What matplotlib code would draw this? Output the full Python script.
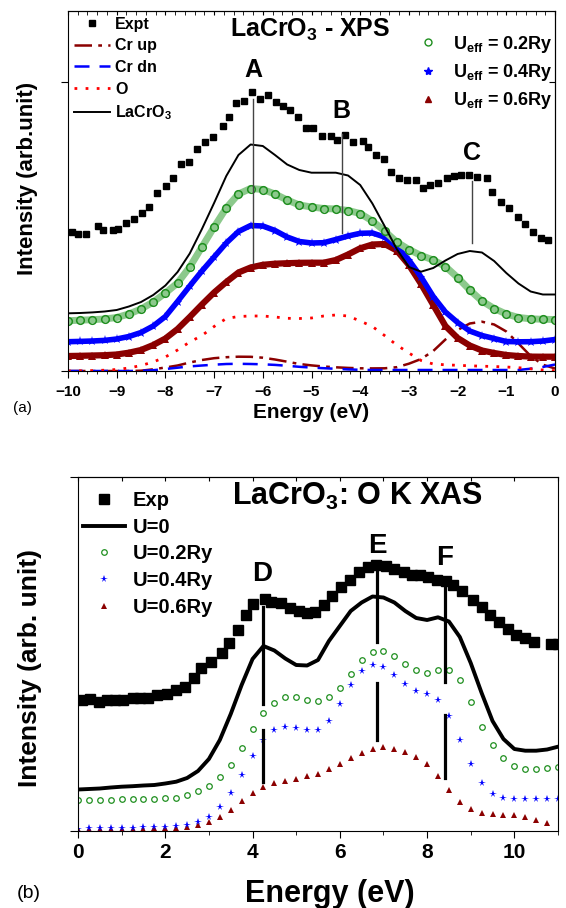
import numpy as np
import matplotlib
matplotlib.use('Agg')
import matplotlib.pyplot as plt
from matplotlib.lines import Line2D
from matplotlib.ticker import MultipleLocator

plt.rcParams['font.family'] = ['Liberation Sans', 'DejaVu Sans']
plt.rcParams['font.weight'] = 'bold'
plt.rcParams['axes.labelweight'] = 'bold'
plt.rcParams['mathtext.fontset'] = 'custom'
plt.rcParams['mathtext.rm'] = 'Liberation Sans:bold'
plt.rcParams['mathtext.bf'] = 'Liberation Sans:bold'
plt.rcParams['mathtext.default'] = 'rm'

GREEN = '#1f8f1f'
BLUE = '#0000ff'
DARKRED = '#8b0000'
RED = '#ff0000'

# ---- (a) XPS data, energies in eV, intensities in arb. units ----
xps_e = np.linspace(-10, 0, 41)
expt_e = [-9.92, -9.79, -9.63, -9.39, -9.29, -9.08, -8.97, -8.81, -8.65, -8.49,
          -8.33, -8.17, -7.99, -7.84, -7.67, -7.51, -7.36, -7.19, -7.03, -6.81,
          -6.69, -6.55, -6.39, -6.22, -6.06, -5.90, -5.73, -5.59, -5.44, -5.27,
          -5.11, -4.96, -4.79, -4.59, -4.47, -4.31, -4.15, -3.95, -3.83, -3.68,
          -3.51, -3.37, -3.20, -3.03, -2.85, -2.72, -2.57, -2.40, -2.22, -2.07,
          -1.92, -1.77, -1.60, -1.40, -1.29, -1.10, -0.95, -0.75, -0.62, -0.45,
          -0.29, -0.14]
expt_i = [139, 137, 137, 145, 141, 141, 142, 148, 152, 158, 164, 178, 185, 193,
          207, 209, 222, 229, 234, 245, 254, 268, 270, 279, 272, 276, 269, 265,
          261, 254, 243, 243, 235, 235, 231, 236, 229, 230, 224, 216, 212, 199,
          193, 191, 191, 183, 186, 188, 193, 195, 196, 196, 194, 193, 179, 169,
          163, 154, 147, 139, 133, 131]
xps_total = [57.7, 58, 58.6, 59.5, 61, 64.5, 69, 76, 85.5, 99, 117.5, 142, 168,
             195, 216, 226.5, 225, 216, 206.5, 201, 198.3, 198.3, 198.3, 195.5,
             186, 167.5, 145, 122, 104, 99.3, 103, 110.5, 117, 120, 118.5, 110,
             98, 87.5, 79.5, 76.5, 76.5]
xps_u02 = [50.3, 50.8, 51.3, 52, 53.5, 57, 62, 69, 78, 88, 104, 124, 144, 163,
           177, 182.5, 181.5, 177, 171, 166, 164, 162.5, 162, 160.5, 157.5, 150,
           140, 129, 121.5, 115.5, 111, 104.5, 93.5, 81, 70, 62.5, 57, 53.5,
           52.2, 51.7, 51.5]
xps_u04 = [29.3, 29.6, 30, 30.6, 32, 34.5, 38.5, 45, 54.5, 69.5, 85, 100, 114,
           128, 139.5, 145.5, 145, 140.5, 134, 129.5, 128, 128.3, 131.5, 135,
           137.7, 138, 134, 124.5, 111, 94, 74.5, 59, 48.5, 40, 35.5, 32.5, 29.5,
           29.2, 29.3, 30, 31.5]
xps_u06 = [15, 15.2, 15.5, 15.8, 16.5, 18.3, 21, 26, 32.5, 42, 54, 66.5, 78.5,
           89, 98.5, 103.5, 106.2, 107.3, 107.8, 108.2, 108.3, 108.3, 111, 116.5,
           122.7, 126.5, 127, 120.5, 106, 87, 66, 45, 33, 25.5, 20.5, 18, 16, 15,
           14.4, 14.3, 14.3]
xps_o = [0, 0.2, 0.4, 0.8, 1.5, 3, 5.5, 9, 14, 21, 29, 35.5, 44.5, 52.5, 54.5,
         55, 55, 54, 52.7, 52.5, 53, 55, 56, 55, 50, 44.5, 35.5, 26, 18, 10.5, 7,
         6.2, 5.7, 5.2, 4.8, 4.5, 4, 3.3, 2.2, 1, 0.2]
xps_cr_up = [0, 0, 0, 0, 0, 0, 0.3, 1.7, 3.5, 5.5, 8.5, 11, 12.8, 13.8, 14.3,
             14.2, 13.3, 11.5, 9.3, 7, 5.6, 4.5, 3.7, 3.1, 2.7, 2.6, 2.7, 3.8,
             7.3, 12, 20, 31.5, 41, 47.5, 49.3, 46.5, 39.5, 27.5, 15, 6.3, 2.5]
xps_cr_dn = [0, 0, 0, 0, 0, 0, 0.2, 0.8, 2, 3.3, 4.6, 5.5, 6.3, 7, 7.2, 7, 6.7,
             6.1, 5.2, 4.2, 3.4, 2.8, 2.2, 1.6, 1.2, 1, 1, 1, 1, 1, 1, 1, 1, 1,
             1, 1, 1, 1, 2.3, 4, 6.5]
xps_peaks = ['A', 'B', 'C']
xps_peak_e = [-6.2, -4.38, -1.70]
xps_peak_top = [272, 237, 190]
xps_peak_bottom = [108, 138, 128]
xps_label_h = [294, 253, 211]

# ---- (b) O K XAS data ----
xas_e = np.linspace(0, 11, 45)
exp_e = [0.09, 0.28, 0.47, 0.67, 0.85, 1.04, 1.25, 1.42, 1.61, 1.82, 2.03, 2.24,
         2.45, 2.65, 2.83, 3.04, 3.29, 3.46, 3.67, 3.86, 4.01, 4.28, 4.43, 4.66,
         4.85, 5.06, 5.25, 5.42, 5.63, 5.83, 6.03, 6.24, 6.44, 6.64, 6.84, 7.05,
         7.25, 7.46, 7.66, 7.84, 8.02, 8.22, 8.44, 8.60, 8.80, 9.05, 9.26, 9.44,
         9.64, 9.85, 10.04, 10.25, 10.46, 10.84, 10.99]
exp_i = [131, 132, 129, 131, 131, 131, 133, 133, 133, 136, 137, 141, 144, 153,
         163, 169, 178, 188, 201, 216, 227, 232, 229, 228, 223, 220, 218, 219,
         226, 235, 244, 251, 259, 264, 266, 265, 262, 259, 256, 256, 254, 251,
         250, 246, 240, 231, 224, 216, 209, 202, 196, 193, 189, 187, 187]
xas_u0 = [41.5, 42, 42.5, 43.5, 44.3, 44.8, 45.5, 46, 47.5, 49.3, 53, 60, 72, 91,
          117, 146, 172, 185, 180.5, 172.5, 166, 165.5, 171, 190, 205, 220,
          228.5, 234.5, 233.5, 228.5, 220, 213, 211, 213.7, 209.5, 194, 168, 138,
          110, 92, 82, 80.3, 80.3, 81.5, 84.3]
xas_u02 = [31, 31.2, 31.3, 31.5, 31.7, 32, 32.2, 32.4, 32.6, 33.5, 36, 40, 45.5,
           54.5, 66, 83, 102, 118, 128, 134, 134, 131, 130, 134, 143, 157, 171,
           179.5, 180, 175, 167, 161, 158.5, 161.5, 161, 151, 129, 104, 86, 73,
           65.5, 62.5, 61.7, 62.7, 64.3]
xas_u04 = [2.5, 2.7, 2.9, 3.1, 3.3, 3.5, 3.7, 3.9, 4.1, 4.8, 6.5, 9.5, 14, 24, 38,
           56, 75, 91.5, 101, 104, 103, 101, 101.5, 110, 127, 146, 160, 166.5,
           164, 156, 147, 140.5, 137, 131, 115, 91, 67, 48, 37, 32.6, 31.8, 31.7,
           31.7, 31.7, 31.7]
xas_u06 = [2, 2.1, 2.2, 2.3, 2.3, 2.4, 2.5, 2.6, 2.7, 3.2, 4.5, 6.5, 9.5, 14.3,
           21, 30, 38, 44.5, 48, 50, 52.5, 55, 57.5, 62.5, 67.5, 73, 78.5, 82.5,
           83.7, 82.5, 79, 74, 67, 55, 41, 29, 22, 18, 16.8, 16.4, 16, 14, 11.5,
           8.3]
xas_peaks = ['D', 'E', 'F']
xas_peak_e = [4.23, 6.85, 8.40]
xas_peak_segments = [[(224, 127), (101, 49)],
                     [(263, 189), (148, 91)],
                     [(246, 149), (116, 53)]]
xas_label_h = [250, 278, 266]


def draw_xps(ax):
    ax.plot(xps_e, xps_cr_up, color=DARKRED, lw=1.8, ls=(0, (7, 2.5, 1.5, 2.5)), label='Cr up')
    ax.plot(xps_e, xps_cr_dn, color=BLUE, lw=1.8, ls=(0, (6, 4)), label='Cr dn')
    ax.plot(xps_e, xps_o, color=RED, lw=2, ls=(0, (1, 3)), label='O')
    # the calculated curves are drawn as dense marker bands in the original
    ax.plot(xps_e, xps_u06, color=DARKRED, lw=4.5, marker='^', ms=5.5, mew=0)
    ax.plot(xps_e, xps_u04, color=BLUE, lw=4, marker='*', ms=6.5, mew=0)
    ax.plot(xps_e, xps_u02, color='#8cc98c', lw=5)
    ax.plot(xps_e, xps_u02, color=GREEN, lw=0, marker='o', ms=5.5, mfc='none', mew=1.1)
    ax.plot(xps_e, xps_total, color='black', lw=1.4, label='LaCrO$_3$')
    ax.plot(expt_e, expt_i, 's', color='black', ms=4.3, ls='none', label='Expt')

    for name, e, top, bot, lh in zip(xps_peaks, xps_peak_e, xps_peak_top,
                                     xps_peak_bottom, xps_label_h):
        ax.plot([e, e], [bot, top], color='#444444', lw=1)
        ax.text(e, lh, name, ha='center', va='baseline', fontsize=18)

    ax.text(0.333, 0.929, 'LaCrO$_3$ - XPS', transform=ax.transAxes,
            ha='left', va='baseline', fontsize=18)

    ax.set_xlim(-10, 0)
    ax.set_ylim(0, 360)
    ax.xaxis.set_major_locator(MultipleLocator(1))
    ax.xaxis.set_minor_locator(MultipleLocator(0.2))
    ax.set_yticks([0, 289])
    ax.set_yticklabels([])
    ax.tick_params(axis='x', which='major', direction='out', length=5, labelsize=11, pad=5)
    ax.tick_params(axis='x', which='minor', direction='out', length=2.5)
    ax.tick_params(axis='y', direction='out', length=5)
    for lbl in ax.get_xticklabels():
        lbl.set_fontweight('bold')
    ax.set_xlabel('Energy (eV)', fontsize=15, labelpad=3)

    top = ax.secondary_xaxis('top')
    top.xaxis.set_major_locator(MultipleLocator(1))
    top.xaxis.set_minor_locator(MultipleLocator(0.2))
    top.tick_params(which='both', direction='in', length=3, labeltop=False)
    right = ax.secondary_yaxis('right')
    right.set_yticks([289])
    right.tick_params(direction='in', length=4, labelright=False)

    handles, labels = ax.get_legend_handles_labels()
    order = [labels.index(k) for k in ['Expt', 'Cr up', 'Cr dn', 'O', 'LaCrO$_3$']]
    leg1 = ax.legend([handles[i] for i in order], [labels[i] for i in order],
                     loc='upper left', bbox_to_anchor=(0.0, 1.0), frameon=False,
                     fontsize=11.5, handlelength=2.3, handletextpad=0.3,
                     labelspacing=0.42, borderpad=0.35, borderaxespad=0, numpoints=1)
    ax.add_artist(leg1)

    u_handles = [Line2D([], [], color=GREEN, marker='o', ms=5, mfc='none', ls='none'),
                 Line2D([], [], color=BLUE, marker='*', ms=6, ls='none'),
                 Line2D([], [], color=DARKRED, marker='^', ms=5, ls='none')]
    u_labels = ['U$_{eff}$ = 0.2Ry', 'U$_{eff}$ = 0.4Ry', 'U$_{eff}$ = 0.6Ry']
    ax.legend(u_handles, u_labels, loc='upper left', bbox_to_anchor=(0.72, 0.937),
              frameon=False, fontsize=13, handlelength=1.0, handletextpad=0.9,
              labelspacing=0.4, borderpad=0, borderaxespad=0)


def draw_xas(ax):
    ax.plot(xas_e[:len(xas_u06)], xas_u06, '^', color=DARKRED, ms=4.5, mew=0, label='U=0.6Ry')
    ax.plot(xas_e, xas_u04, '*', color=BLUE, ms=5.5, mew=0, label='U=0.4Ry')
    ax.plot(xas_e, xas_u02, 'o', color=GREEN, ms=4, mfc='none', mew=0.9, label='U=0.2Ry')
    ax.plot(xas_e, xas_u0, color='black', lw=2.8, label='U=0')
    ax.plot(exp_e, exp_i, 's', color='black', ms=6.5, label='Exp')

    for name, e, segs, lh in zip(xas_peaks, xas_peak_e, xas_peak_segments, xas_label_h):
        for top, bot in segs:
            ax.plot([e, e], [bot, top], color='black', lw=2.3)
        ax.text(e, lh, name, ha='center', va='baseline', fontsize=20)

    ax.text(0.321, 0.921, 'LaCrO$_3$: O K XAS', transform=ax.transAxes,
            ha='left', va='baseline', fontsize=22)

    ax.set_xlim(0, 11)
    ax.set_ylim(0, 354)
    ax.xaxis.set_major_locator(MultipleLocator(2))
    ax.xaxis.set_minor_locator(MultipleLocator(1))
    ax.set_yticks([0, 354])
    ax.set_yticklabels([])
    ax.tick_params(axis='x', which='major', direction='out', length=5, labelsize=15, pad=4)
    ax.tick_params(axis='x', which='minor', direction='out', length=3)
    ax.tick_params(axis='y', direction='out', length=6)
    for lbl in ax.get_xticklabels():
        lbl.set_fontweight('bold')
    ax.set_xlabel('Energy (eV)', fontsize=22)
    ax.xaxis.set_label_coords(0.525, -0.135)

    top = ax.secondary_xaxis('top')
    top.xaxis.set_major_locator(MultipleLocator(1))
    top.tick_params(direction='in', length=3, labeltop=False)

    handles, labels = ax.get_legend_handles_labels()
    order = [labels.index(k) for k in ['Exp', 'U=0', 'U=0.2Ry', 'U=0.4Ry', 'U=0.6Ry']]
    ax.legend([handles[i] for i in order], [labels[i] for i in order],
              loc='upper left', bbox_to_anchor=(0.0, 1 - 9 / 354), frameon=False,
              fontsize=14.5, handlelength=2.1, handletextpad=0.35,
              labelspacing=0.38, borderpad=0.25, borderaxespad=0, numpoints=1)


def main():
    fig = plt.figure(figsize=(5.66, 9.08), dpi=100)
    ax_a = fig.add_axes([68 / 566, 1 - 371 / 908, 487 / 566, 360 / 908])
    ax_b = fig.add_axes([78 / 566, 1 - 831 / 908, 480 / 566, 354 / 908])
    draw_xps(ax_a)
    draw_xas(ax_b)
    fig.text(28 / 566, 1 - 178 / 908, 'Intensity (arb.unit)', rotation=90,
             fontsize=16, ha='center', va='center')
    fig.text(30 / 566, 1 - 668 / 908, 'Intensity (arb. unit)', rotation=90,
             fontsize=19, ha='center', va='center')
    fig.text(22 / 566, 1 - 408 / 908, '(a)', fontsize=11, fontweight='normal',
             ha='center', va='center')
    fig.text(29 / 566, 1 - 894 / 908, '(b)', fontsize=14, fontweight='normal',
             ha='center', va='center')
    fig.savefig('out.png', dpi=100)


if __name__ == "__main__":
    main()
